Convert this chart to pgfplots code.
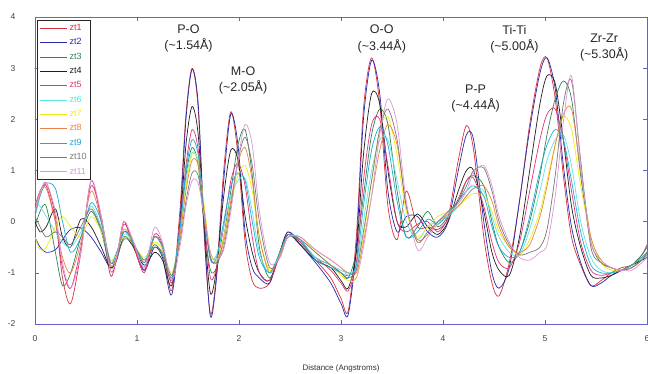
\documentclass[border=0pt]{standalone}
\usepackage{pgfplots}
\usepackage{pgfplotstable}
\pgfplotsset{compat=1.18}
\usepackage{fontspec}
\setmainfont{Liberation Sans}

\definecolor{c1}{RGB}{215,50,60}
\definecolor{c2}{RGB}{40,40,170}
\definecolor{c3}{RGB}{50,130,80}
\definecolor{c4}{RGB}{30,30,30}
\definecolor{c5}{RGB}{225,50,120}
\definecolor{c6}{RGB}{90,230,225}
\definecolor{c7}{RGB}{240,235,20}
\definecolor{c8}{RGB}{235,130,70}
\definecolor{c9}{RGB}{30,170,215}
\definecolor{c10}{RGB}{120,120,120}
\definecolor{c11}{RGB}{220,150,215}
\definecolor{axcol}{RGB}{105,95,200}

% radial distribution curves, one column per sample
\pgfplotstableread{
x    z1    z2    z3    z4    z5    z6    z7    z8    z9    z10   z11
0    0.15  -0.3  -0.1  0.0   0.3   0.4   -0.3  0.2   0.1   0.1   0.2
0.05 0.55  -0.5  0.2   -0.2  0.6   0.3   -0.55 0.6   0.5   -0.1  0.55
0.11 0.76  -0.6  0.3   -0.1  0.7   0.1   -0.5  0.65  0.75  -0.3  0.76
0.2  0.1   -0.55 -0.6  0.25  0.0   -0.2  -0.1  0.0   0.65  -0.2  0.2
0.27 -1.1  -0.35 -1.25 -0.3  -0.9  -0.4  0.1   -0.7  0.0   -0.3  -0.8
0.35 -1.6  -0.15 -1.0  -0.5  -1.3  -0.5  -0.1  -1.0  -0.6  -0.45 -1.3
0.45 -0.6  -0.12 -0.3  0.05  -0.5  -0.2  -0.3  -0.4  -0.3  -0.1  -0.6
0.55 0.8   -0.3  0.2   -0.1  0.7   0.3   0.1   0.6   0.37  0.25  0.8
0.65 0.0   -0.6  -0.2  -0.5  0.1   -0.1  -0.2  0.0   0.0   -0.15 0.1
0.74 -1.05 -0.9  -0.9  -0.9  -0.95 -0.75 -0.75 -0.85 -0.8  -0.8  -0.95
0.8  -0.7  -0.7  -0.7  -0.75 -0.75 -0.6  -0.6  -0.7  -0.6  -0.7  -0.7
0.87 0.0   -0.2  -0.3  -0.3  -0.05 -0.25 -0.3  -0.15 -0.2  -0.35 0.0
0.95 -0.4  -0.35 -0.4  -0.45 -0.35 -0.35 -0.4  -0.35 -0.35 -0.4  -0.3
1.07 -0.95 -0.95 -0.8  -0.85 -1.0  -0.75 -0.7  -0.9  -0.8  -0.75 -0.9
1.17 -0.3  -0.5  -0.45 -0.6  -0.25 -0.3  -0.4  -0.3  -0.3  -0.5  -0.12
1.25 -0.5  -0.7  -0.65 -0.75 -0.45 -0.5  -0.55 -0.5  -0.5  -0.6  -0.4
1.34 -1.35 -1.43 -1.15 -1.25 -1.2  -1.05 -1.0  -1.1  -1.1  -1.05 -1.15
1.42 0.2   0.0   -0.2  -0.1  -0.1  -0.2  -0.3  -0.3  -0.15 -0.4  -0.5
1.48 2.1   2.0   0.9   1.5   1.1   0.8   0.7   0.6   1.0   0.4   0.3
1.54 3.0   2.98  1.45  2.25  1.8   1.35  1.3   1.2   1.6   0.95  0.8
1.6  2.2   2.3   1.1   1.7   1.4   1.15  1.2   1.1   1.3   0.9   0.75
1.66 -0.3  -0.2  -0.1  -0.1  0.0   0.1   0.3   0.2   0.1   0.1   0.1
1.72 -1.8  -1.85 -0.95 -1.4  -1.1  -0.7  -0.6  -0.7  -0.75 -0.7  -0.6
1.78 -1.0  -1.1  -0.9  -0.9  -0.9  -0.65 -0.75 -0.8  -0.7  -0.8  -0.75
1.85 1.0   0.8   -0.3  0.5   -0.1  -0.1  -0.3  -0.4  0.0   -0.5  -0.55
1.92 2.15  2.1   0.6   1.4   0.8   0.5   0.4   0.4   0.7   0.3   0.2
1.99 1.3   1.5   1.5   1.2   1.15  0.8   0.9   1.15  0.95  1.2   1.2
2.06 -0.4  -0.2  1.8   0.1   0.7   0.85  1.1   1.45  0.8   1.65  1.9
2.13 -1.15 -0.9  0.9   -0.6  -0.3  0.2   0.6   0.8   0.0   1.1   1.5
2.2  -1.3  -1.1  -0.5  -1.0  -1.0  -0.6  -0.3  -0.3  -0.7  0.0   0.2
2.3  -1.2  -1.2  -1.1  -1.15 -1.15 -1.0  -0.95 -1.0  -1.0  -0.9  -0.8
2.4  -0.6  -0.6  -0.6  -0.6  -0.65 -0.6  -0.65 -0.65 -0.6  -0.7  -0.7
2.48 -0.2  -0.2  -0.25 -0.25 -0.25 -0.3  -0.3  -0.3  -0.25 -0.3  -0.3
2.6  -0.4  -0.45 -0.4  -0.45 -0.4  -0.35 -0.3  -0.3  -0.35 -0.35 -0.3
2.75 -0.75 -0.8  -0.7  -0.75 -0.7  -0.7  -0.6  -0.55 -0.75 -0.6  -0.55
2.9  -1.1  -1.2  -0.85 -0.9  -0.95 -0.85 -0.85 -0.75 -0.9  -0.85 -0.75
3.0  -1.5  -1.6  -1.0  -1.15 -1.2  -0.95 -1.05 -0.9  -1.0  -1.0  -0.9
3.07 -1.75 -1.82 -1.1  -1.3  -1.35 -1.0  -1.15 -1.0  -1.05 -1.1  -1.05
3.15 -0.3  -0.5  -0.6  -0.6  -0.8  -0.9  -1.1  -1.0  -0.85 -0.95 -1.1
3.22 2.2   2.0   0.5   1.3   0.8   0.0   -0.3  -0.4  0.3   -0.2  -0.5
3.3  3.2   3.15  1.7   2.5   1.9   1.0   0.8   0.5   1.4   0.8   0.5
3.38 2.3   2.5   2.2   2.3   2.0   1.6   1.8   1.4   1.85  1.8   1.7
3.46 0.3   0.6   1.9   1.0   1.1   1.6   2.05  1.9   1.5   2.2   2.4
3.55 -0.35 -0.2  0.6   0.0   0.0   0.8   1.3   1.5   0.4   1.6   1.9
3.64 0.6   0.1   -0.3  -0.1  -0.2  0.0   0.2   0.3   -0.3  0.3   0.4
3.75 -0.1  0.1   -0.1  0.15  -0.05 -0.35 -0.3  -0.35 -0.2  -0.4  -0.55
3.85 -0.1  -0.2  0.2   -0.1  0.0   -0.1  -0.1  -0.25 0.05  -0.2  -0.3
3.95 -0.15 -0.3  -0.1  -0.25 -0.2  0.0   0.1   0.0   -0.05 0.0   -0.05
4.05 0.1   0.0   0.1   0.0   0.05  0.1   0.2   0.15  0.15  0.2   0.15
4.15 1.2   1.0   0.4   0.6   0.45  0.3   0.3   0.3   0.4   0.4   0.35
4.23 1.88  1.7   0.8   1.0   0.8   0.5   0.45  0.5   0.6   0.7   0.6
4.3  1.4   1.6   0.9   1.0   0.85  0.65  0.55  0.65  0.7   1.0   0.95
4.4  -0.3  0.0   0.7   0.2   0.3   0.6   0.5   0.7   0.5   1.05  1.1
4.48 -1.2  -1.0  0.0   -0.6  -0.4  0.1   0.2   0.4   -0.1  0.6   0.7
4.55 -1.45 -1.3  -0.5  -0.95 -0.8  -0.3  -0.2  -0.1  -0.5  0.0   0.1
4.65 -0.8  -0.9  -0.8  -1.05 -0.9  -0.6  -0.5  -0.5  -0.7  -0.45 -0.4
4.75 0.4   0.4   -0.6  -0.3  -0.4  -0.65 -0.65 -0.6  -0.6  -0.65 -0.7
4.85 1.9   1.8   0.0   1.0   0.6   -0.15 -0.35 -0.45 0.1   -0.6  -0.75
4.95 3.0   2.9   0.9   2.3   1.6   0.6   0.2   0.1   1.0   -0.5  -0.6
5.02 3.2   3.2   1.7   2.85  2.1   1.2   0.8   0.7   1.5   -0.15 -0.45
5.1  2.4   2.6   2.4   2.7   2.2   1.6   1.5   1.5   1.8   0.9   0.5
5.18 0.9   1.1   2.75  1.6   1.6   1.7   2.05  2.1   1.6   2.3   1.95
5.26 -0.3  -0.1  2.4   0.3   0.6   1.1   1.8   2.2   0.8   2.75  2.85
5.35 -0.85 -0.8  0.9   -0.5  -0.4  0.0   0.7   1.0   -0.2  1.2   1.1
5.45 -1.25 -1.25 -0.4  -1.05 -0.95 -0.7  -0.3  -0.3  -0.85 -0.5  -0.4
5.55 -1.15 -1.2  -0.8  -1.1  -1.05 -0.95 -0.8  -0.75 -1.0  -0.8  -0.75
5.65 -1.0  -1.05 -0.9  -1.05 -1.0  -1.0  -0.95 -0.9  -1.0  -0.9  -0.9
5.75 -0.9  -0.95 -0.95 -0.95 -0.95 -0.95 -0.95 -0.95 -0.95 -0.95 -0.95
5.85 -0.85 -0.85 -0.85 -0.85 -0.85 -0.9  -0.85 -0.9  -0.85 -0.9  -0.95
5.95 -0.65 -0.75 -0.65 -0.75 -0.7  -0.75 -0.7  -0.75 -0.7  -0.75 -0.8
6.0  -0.45 -0.65 -0.5  -0.7  -0.6  -0.65 -0.6  -0.6  -0.6  -0.6  -0.7
}\rdf

\begin{document}
\begin{tikzpicture}
\useasboundingbox (-35pt,-50pt) rectangle (613pt,324pt);
\begin{axis}[
  at={(0,0)}, anchor=south west,
  scale only axis, width=612pt, height=307pt,
  xmin=0, xmax=6, ymin=-2, ymax=4,
  xtick={0,1,...,6}, ytick={-2,-1,...,4},
  tick align=inside,
  major tick length=4pt,
  axis line style={axcol, line width=0.8pt},
  every tick/.style={axcol, line width=0.6pt},
  /pgf/number format/assume math mode=true,
  tick label style={font=\fontsize{8.5}{10}\selectfont, text=black!75},
  yticklabel style={xshift=-16pt},
  xticklabel style={yshift=-8pt},
  xlabel={Distance (Angstroms)},
  xlabel style={at={(axis description cs:0.5,0)}, anchor=center, yshift=-44pt, font=\fontsize{8}{9}\selectfont, text=black!80},
  legend cell align=left,
  legend style={at={(axis description cs:0.004,0.99)}, anchor=north west,
    draw=black!85, line width=0.6pt, font=\fontsize{9}{10}\selectfont,
    row sep=2.6pt, inner sep=2pt},
  legend image code/.code={\draw[#1, line width=0.8pt] (0pt,0pt) -- (27pt,0pt);},
  every axis plot/.append style={line width=0.7pt, smooth, tension=0.5},
]
\addplot[c1]  table[x=x, y=z1]  {\rdf}; \addlegendentry{\textcolor{c1}{zt1}}
\addplot[c2]  table[x=x, y=z2]  {\rdf}; \addlegendentry{\textcolor{c2}{zt2}}
\addplot[c3]  table[x=x, y=z3]  {\rdf}; \addlegendentry{\textcolor{c3}{zt3}}
\addplot[c4]  table[x=x, y=z4]  {\rdf}; \addlegendentry{\textcolor{c4}{zt4}}
\addplot[c5]  table[x=x, y=z5]  {\rdf}; \addlegendentry{\textcolor{c5}{zt5}}
\addplot[c6]  table[x=x, y=z6]  {\rdf}; \addlegendentry{\textcolor{c6}{zt6}}
\addplot[c7]  table[x=x, y=z7]  {\rdf}; \addlegendentry{\textcolor{c7}{zt7}}
\addplot[c8]  table[x=x, y=z8]  {\rdf}; \addlegendentry{\textcolor{c8}{zt8}}
\addplot[c9]  table[x=x, y=z9]  {\rdf}; \addlegendentry{\textcolor{c9}{zt9}}
\addplot[c10] table[x=x, y=z10] {\rdf}; \addlegendentry{\textcolor{c10}{zt10}}
\addplot[c11] table[x=x, y=z11] {\rdf}; \addlegendentry{\textcolor{c11}{zt11}}

% peak assignments
\begin{scope}[every node/.style={align=center, font=\fontsize{12.5}{16.5}\selectfont, text=black!85}]
\node at (axis cs:1.505,3.58) {P-O\\(\textasciitilde1.54Å)};
\node at (axis cs:2.04,2.76) {M-O\\(\textasciitilde2.05Å)};
\node at (axis cs:3.40,3.57) {O-O\\(\textasciitilde3.44Å)};
\node at (axis cs:4.32,2.41) {P-P\\(\textasciitilde4.44Å)};
\node at (axis cs:4.70,3.56) {Ti-Ti\\(\textasciitilde5.00Å)};
\node at (axis cs:5.58,3.40) {Zr-Zr\\(\textasciitilde5.30Å)};
\end{scope}
\end{axis}
\end{tikzpicture}
\end{document}
